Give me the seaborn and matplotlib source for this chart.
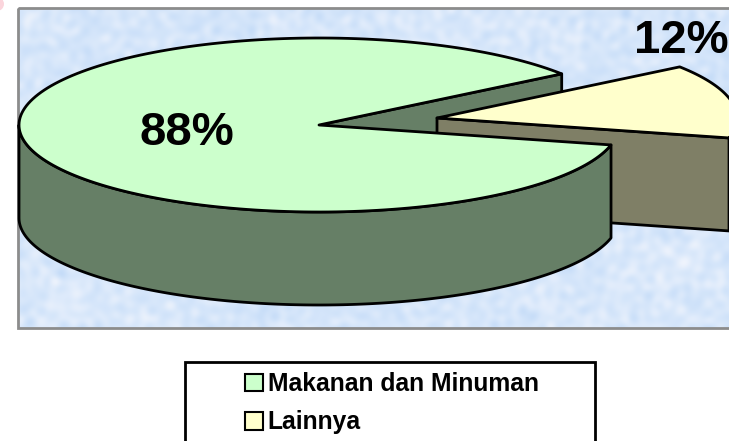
import matplotlib
matplotlib.use("Agg")
import matplotlib.pyplot as plt
import numpy as np
import seaborn as sns
from matplotlib.patches import Circle, Patch, Polygon, Rectangle

CATEGORIES = ["Makanan dan Minuman", "Lainnya"]
SHARES = [88, 12]
LABELS = ["88%", "12%"]
TOP_COLORS = ["#CCFFCC", "#FFFFCC"]
SIDE_COLORS = ["#667F66", "#7F7F66"]

WIDTH, HEIGHT = 729, 441
CX, CY, RX, RY = 319, 125, 300, 87
DEPTH = 93
EXPLODE = (118, -7)
SLICE_END = 36.0
# the flattened pie shows slices a bit wider than their true angle
STRETCH = 1.14


def arc(cx, cy, a0, a1, n=200):
    t = np.radians(np.linspace(a0, a1, n))
    return np.column_stack([cx + RX * np.cos(t), cy - RY * np.sin(t)])


def wall(cx, cy, a0, a1):
    top = arc(cx, cy, a0, a1)
    bottom = top[::-1] + [0, DEPTH]
    return np.vstack([top, bottom])


def cut_face(cx, cy, angle):
    rim = arc(cx, cy, angle, angle, 1)[0]
    return [(cx, cy), tuple(rim), (rim[0], rim[1] + DEPTH), (cx, cy + DEPTH)]


def texture():
    # mottled paper look, built from waves running in many directions
    yy, xx = np.mgrid[0:HEIGHT, 0:WIDTH]
    tex = np.zeros((HEIGHT, WIDTH))
    for i in range(60):
        angle = i * 2.399963
        freq = 0.05 + 0.008 * i
        tex += np.sin(freq * (np.cos(angle) * xx + np.sin(angle) * yy) + i * i * 0.7)
    return tex + 3 * np.sin(0.011 * xx + 0.017 * yy + 2.2)


sns.set_theme(style="white")
plt.rcParams["font.family"] = ["Liberation Sans", "DejaVu Sans"]

fig = plt.figure(figsize=(WIDTH / 100, HEIGHT / 100), dpi=100)
ax = fig.add_axes([0, 0, 1, 1])

yy, xx = np.mgrid[0:HEIGHT, 0:WIDTH]
outside = (xx < 18) | (yy < 8) | (yy >= 328)
sns.heatmap(
    texture(),
    mask=outside,
    cmap=sns.blend_palette(["#C2DAF7", "#D6E6FA", "#EEF3FC"], as_cmap=True),
    cbar=False,
    xticklabels=False,
    yticklabels=False,
    ax=ax,
)
ax.set_xlim(0, WIDTH)
ax.set_ylim(HEIGHT, 0)
ax.add_patch(Rectangle((18, 8), WIDTH, 320, fill=False, ec="#8C8C8C", lw=2))
ax.add_patch(Circle((-3, 4), 7, color="#FBD5DC", lw=0))

small_span = SHARES[1] * 3.6 * STRETCH
big_start = SLICE_END
big_end = SLICE_END + 360 - small_span
small_start = big_end - 360
small_end = SLICE_END
ex, ey = CX + EXPLODE[0], CY + EXPLODE[1]
edge = {"ec": "black", "lw": 2, "joinstyle": "round"}

# back to front: notch face, exploded slice, then main slice
ax.add_patch(Polygon(cut_face(CX, CY, big_start), fc=SIDE_COLORS[0], **edge))
ax.add_patch(Polygon(cut_face(ex, ey, small_start), fc=SIDE_COLORS[1], **edge))
ax.add_patch(Polygon(np.vstack([[ex, ey], arc(ex, ey, small_start, small_end)]), fc=TOP_COLORS[1], **edge))
ax.add_patch(Polygon(wall(CX, CY, 180, big_end), fc=SIDE_COLORS[0], **edge))
ax.add_patch(Polygon(np.vstack([[CX, CY], arc(CX, CY, big_start, big_end)]), fc=TOP_COLORS[0], **edge))

ax.text(187, 133, LABELS[0], fontsize=34, fontweight="bold", color="black",
        ha="center", va="center")
ax.text(681, 41, LABELS[1], fontsize=34, fontweight="bold", color="black",
        ha="center", va="center")

ax.add_patch(Rectangle((185, 362), 410, 120, fc="white", ec="black", lw=2, clip_on=True))
handles = [Patch(fc=c, ec="black", lw=1.5) for c in TOP_COLORS]
ax.legend(
    handles,
    CATEGORIES,
    loc="upper left",
    bbox_to_anchor=(239 / WIDTH, 1 - 366 / HEIGHT),
    frameon=False,
    prop={"size": 17.7, "weight": "bold"},
    labelcolor="black",
    handlelength=0.72,
    handleheight=0.72,
    handletextpad=0.2,
    labelspacing=0.58,
    borderpad=0.25,
    borderaxespad=0,
)

fig.savefig("out.png", dpi=100)
plt.close(fig)
